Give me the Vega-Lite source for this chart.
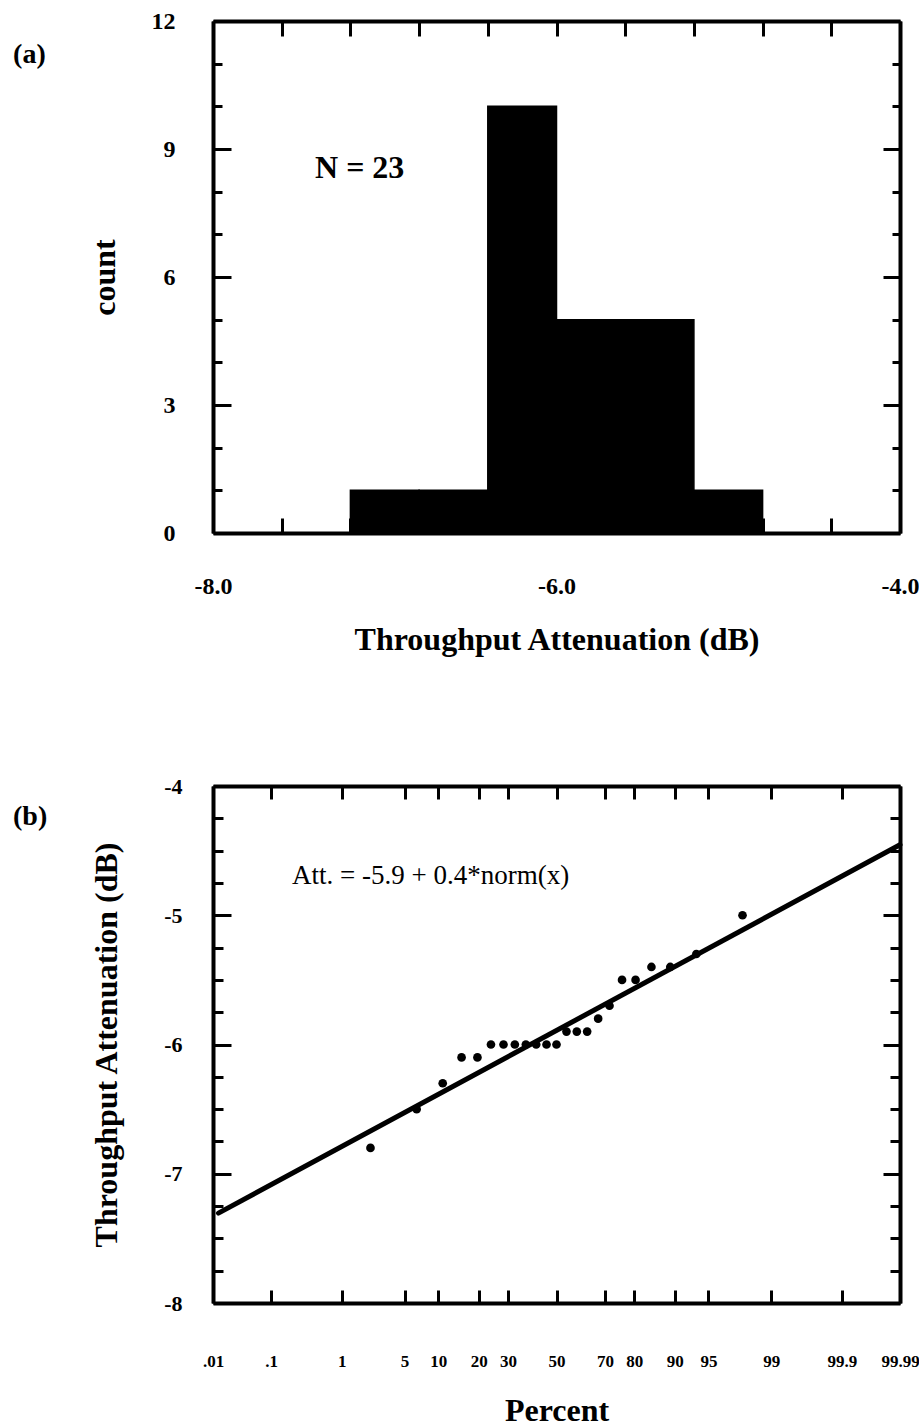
{
  "$schema": "https://vega.github.io/schema/vega-lite/v6.json",
  "padding": {"left": 13, "top": 9, "right": 0, "bottom": 0},
  "background": "white",
  "spacing": 120,
  "config": {
    "font": "Liberation Serif",
    "view": {"stroke": null},
    "axis": {
      "grid": false,
      "domainColor": "black",
      "domainWidth": 4,
      "tickColor": "black",
      "tickWidth": 3,
      "labelColor": "black",
      "titleColor": "black",
      "labelFont": "Liberation Serif",
      "titleFont": "Liberation Serif",
      "labelFontWeight": "bold",
      "titleFontWeight": "bold",
      "titleFontSize": 32,
      "labelFlush": false,
      "labelOverlap": false
    }
  },
  "datasets": {
    "bins": [
      {"bin_start": -7.2, "bin_end": -6.8, "count": 1},
      {"bin_start": -6.8, "bin_end": -6.4, "count": 1},
      {"bin_start": -6.4, "bin_end": -6.0, "count": 10},
      {"bin_start": -6.0, "bin_end": -5.6, "count": 5},
      {"bin_start": -5.6, "bin_end": -5.2, "count": 5},
      {"bin_start": -5.2, "bin_end": -4.8, "count": 1}
    ],
    "points": [
      {"percent": 2.2, "att": -6.8},
      {"percent": 6.5, "att": -6.5},
      {"percent": 10.9, "att": -6.3},
      {"percent": 15.2, "att": -6.1},
      {"percent": 19.6, "att": -6.1},
      {"percent": 23.9, "att": -6.0},
      {"percent": 28.3, "att": -6.0},
      {"percent": 32.6, "att": -6.0},
      {"percent": 37.0, "att": -6.0},
      {"percent": 41.3, "att": -6.0},
      {"percent": 45.7, "att": -6.0},
      {"percent": 50.0, "att": -6.0},
      {"percent": 54.3, "att": -5.9},
      {"percent": 58.7, "att": -5.9},
      {"percent": 63.0, "att": -5.9},
      {"percent": 67.4, "att": -5.8},
      {"percent": 71.7, "att": -5.7},
      {"percent": 76.1, "att": -5.5},
      {"percent": 80.4, "att": -5.5},
      {"percent": 84.8, "att": -5.4},
      {"percent": 89.1, "att": -5.4},
      {"percent": 93.5, "att": -5.3},
      {"percent": 97.8, "att": -5.0}
    ],
    "fit": [
      {"percent": 0.0126, "att": -7.305},
      {"percent": 99.99, "att": -4.455}
    ]
  },
  "vconcat": [
    {
      "width": 687,
      "height": 512,
      "resolve": {"axis": {"x": "independent", "y": "independent"}},
      "layer": [
        {
          "data": {"name": "bins"},
          "mark": {"type": "rect", "color": "black", "stroke": "black", "strokeWidth": 1.5},
          "encoding": {
            "x": {
              "field": "bin_start", "type": "quantitative",
              "scale": {"domain": [-8, -4], "nice": false, "zero": false},
              "axis": {
                "orient": "bottom",
                "title": "Throughput Attenuation (dB)",
                "values": [-8, -7.6, -7.2, -6.8, -6.4, -6, -5.6, -5.2, -4.8, -4.4, -4],
                "tickSize": -15,
                "labelPadding": 56,
                "labelFontSize": 24,
                "labelExpr": "abs(datum.value + 8) < 0.01 ? '-8.0' : abs(datum.value + 6) < 0.01 ? '-6.0' : abs(datum.value + 4) < 0.01 ? '-4.0' : ''",
                "titlePadding": 26
              }
            },
            "x2": {"field": "bin_end"},
            "y": {
              "field": "count", "type": "quantitative",
              "scale": {"domain": [0, 12], "nice": false},
              "axis": {
                "orient": "left",
                "title": "count",
                "values": [0, 1, 2, 3, 4, 5, 6, 7, 8, 9, 10, 11, 12],
                "tickSize": {"condition": {"test": "datum.value % 3 === 0", "value": -18}, "value": -9},
                "labelPadding": 56,
                "labelFontSize": 24,
                "labelExpr": "datum.value % 3 === 0 ? datum.label : ''",
                "titlePadding": 30
              }
            },
            "y2": {"datum": 0}
          }
        },
        {
          "data": {"name": "bins"},
          "mark": {"type": "rect", "opacity": 0},
          "encoding": {
            "x": {
              "field": "bin_start", "type": "quantitative",
              "axis": {
                "orient": "top", "title": null, "labels": false,
                "values": [-8, -7.6, -7.2, -6.8, -6.4, -6, -5.6, -5.2, -4.8, -4.4, -4],
                "tickSize": -15
              }
            },
            "x2": {"field": "bin_end"},
            "y": {
              "field": "count", "type": "quantitative",
              "axis": {
                "orient": "right", "title": null, "labels": false,
                "values": [0, 1, 2, 3, 4, 5, 6, 7, 8, 9, 10, 11, 12],
                "tickSize": {"condition": {"test": "datum.value % 3 === 0", "value": -17}, "value": -8}
              }
            },
            "y2": {"datum": 0}
          }
        },
        {
          "data": {"values": [{"label": "N = 23"}]},
          "mark": {"type": "text", "align": "left", "baseline": "middle", "fontSize": 32, "fontWeight": "bold", "color": "black"},
          "encoding": {
            "text": {"field": "label"},
            "x": {"datum": -7.406, "type": "quantitative", "axis": null},
            "y": {"datum": 8.55, "type": "quantitative", "axis": null}
          }
        },
        {
          "data": {"values": [{"label": "(a)"}]},
          "mark": {"type": "text", "align": "left", "baseline": "middle", "fontSize": 28, "fontWeight": "bold", "color": "black"},
          "encoding": {
            "text": {"field": "label"},
            "x": {"datum": -9.164, "type": "quantitative", "axis": null},
            "y": {"datum": 11.2, "type": "quantitative", "axis": null}
          }
        }
      ]
    },
    {
      "width": 687,
      "height": 517,
      "resolve": {"axis": {"x": "independent", "y": "independent"}},
      "layer": [
        {
          "data": {"name": "points"},
          "transform": [{"calculate": "quantileNormal(datum.percent / 100)", "as": "z"}],
          "mark": {"type": "circle", "size": 75, "opacity": 1, "color": "black"},
          "encoding": {
            "x": {
              "field": "z", "type": "quantitative",
              "scale": {"domain": [-3.719016, 3.719016], "nice": false, "zero": false},
              "axis": {
                "orient": "bottom",
                "title": "Percent",
                "values": [-3.719016, -3.090232, -2.326348, -1.644854, -1.281552, -0.841621, -0.524401, 0, 0.524401, 0.841621, 1.281552, 1.644854, 2.326348, 3.090232, 3.719016],
                "tickSize": -13,
                "labelPadding": 63,
                "labelFontSize": 17,
                "labelExpr": "datum.value < -3.4 ? '.01' : datum.value < -2.7 ? '.1' : datum.value < -2.0 ? '1' : datum.value < -1.45 ? '5' : datum.value < -1.06 ? '10' : datum.value < -0.68 ? '20' : datum.value < -0.26 ? '30' : datum.value < 0.26 ? '50' : datum.value < 0.68 ? '70' : datum.value < 1.06 ? '80' : datum.value < 1.45 ? '90' : datum.value < 2.0 ? '95' : datum.value < 2.7 ? '99' : datum.value < 3.4 ? '99.9' : '99.99'",
                "titlePadding": 26
              }
            },
            "y": {
              "field": "att", "type": "quantitative",
              "scale": {"domain": [-8, -4], "nice": false, "zero": false},
              "axis": {
                "orient": "left",
                "title": "Throughput Attenuation (dB)",
                "values": [-8, -7.75, -7.5, -7.25, -7, -6.75, -6.5, -6.25, -6, -5.75, -5.5, -5.25, -5, -4.75, -4.5, -4.25, -4],
                "tickSize": {"condition": {"test": "datum.value === round(datum.value)", "value": -18}, "value": -10},
                "labelPadding": 49,
                "labelFontSize": 22,
                "labelExpr": "datum.value === round(datum.value) ? '-' + abs(datum.value) : ''",
                "titlePadding": 40
              }
            }
          }
        },
        {
          "data": {"name": "fit"},
          "transform": [{"calculate": "quantileNormal(datum.percent / 100)", "as": "z"}],
          "mark": {"type": "line", "strokeWidth": 5, "color": "black", "strokeCap": "round"},
          "encoding": {
            "x": {
              "field": "z", "type": "quantitative",
              "axis": {
                "orient": "top", "title": null, "labels": false,
                "values": [-3.719016, -3.090232, -2.326348, -1.644854, -1.281552, -0.841621, -0.524401, 0, 0.524401, 0.841621, 1.281552, 1.644854, 2.326348, 3.090232, 3.719016],
                "tickSize": -13
              }
            },
            "y": {
              "field": "att", "type": "quantitative",
              "axis": {
                "orient": "right", "title": null, "labels": false,
                "values": [-8, -7.75, -7.5, -7.25, -7, -6.75, -6.5, -6.25, -6, -5.75, -5.5, -5.25, -5, -4.75, -4.5, -4.25, -4],
                "tickSize": {"condition": {"test": "datum.value === round(datum.value)", "value": -17}, "value": -10}
              }
            }
          }
        },
        {
          "data": {"values": [{"label": "Att. = -5.9 + 0.4*norm(x)"}]},
          "mark": {"type": "text", "align": "left", "baseline": "alphabetic", "fontSize": 27, "color": "black"},
          "encoding": {
            "text": {"field": "label"},
            "x": {"datum": -2.864, "type": "quantitative", "axis": null},
            "y": {"datum": -4.76, "type": "quantitative", "axis": null}
          }
        },
        {
          "data": {"values": [{"label": "(b)"}]},
          "mark": {"type": "text", "align": "left", "baseline": "middle", "fontSize": 28, "fontWeight": "bold", "color": "black"},
          "encoding": {
            "text": {"field": "label"},
            "x": {"datum": -5.884, "type": "quantitative", "axis": null},
            "y": {"datum": -4.24, "type": "quantitative", "axis": null}
          }
        }
      ]
    }
  ]
}
